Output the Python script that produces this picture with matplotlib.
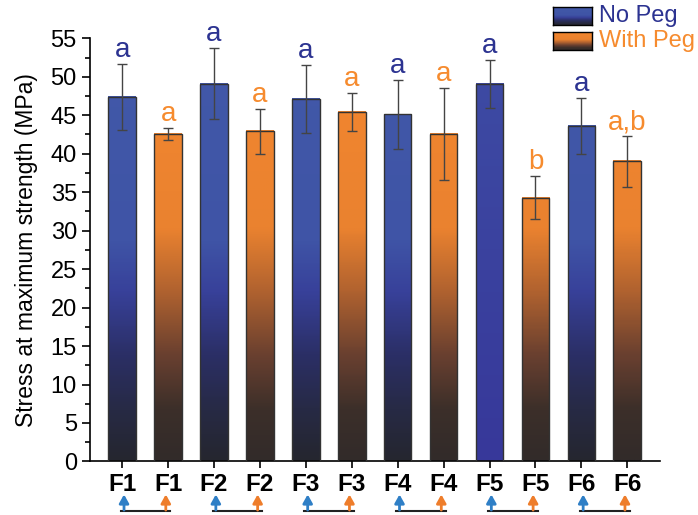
import numpy as np
import matplotlib
matplotlib.use("Agg")
import matplotlib.pyplot as plt
from matplotlib.colors import LinearSegmentedColormap, Normalize
from matplotlib.patches import Rectangle
import matplotlib.transforms as mtransforms

plt.rcParams['font.family'] = ['Liberation Sans', 'DejaVu Sans']

# data
formulas = ["F1", "F2", "F3", "F4", "F5", "F6"]
no_peg = [47.4, 49.1, 47.1, 45.1, 49.1, 43.6]
no_peg_err = [4.3, 4.6, 4.4, 4.5, 3.1, 3.7]
with_peg = [42.6, 42.9, 45.4, 42.6, 34.3, 39.0]
with_peg_err = [0.8, 2.9, 2.5, 6.0, 2.8, 3.3]
letters_no_peg = ["a", "a", "a", "a", "a", "a"]
letters_with_peg = ["a", "a", "a", "a", "b", "a,b"]
solid_bars = ["F5"]  # the no-peg F5 bar has no dark fade

NAVY = "#2c3391"
ORANGE = "#f68b2e"

blue_cmap = LinearSegmentedColormap.from_list("blue_fade", [
    (0.0, "#25262f"), (0.12, "#272a45"), (0.25, "#2b2f66"),
    (0.40, "#38419a"), (0.52, "#3f54a6"), (1.0, "#4259a9")])
orange_cmap = LinearSegmentedColormap.from_list("orange_fade", [
    (0.0, "#322b2a"), (0.12, "#3c2f29"), (0.25, "#6a4030"),
    (0.40, "#b0622f"), (0.55, "#ea822f"), (1.0, "#f4872f")])
solid_cmap = LinearSegmentedColormap.from_list("solid_blue", ["#37389a", "#3e4ca4"])

fig = plt.figure(figsize=(6.98, 5.15), dpi=100)
ax = fig.add_axes([0.129, 0.104, 0.817, 0.8216])

ymax = 55
norm = Normalize(0, ymax)
width = 0.6

labels, heights, errs, cmaps, letters, lcolors = [], [], [], [], [], []
for i, f in enumerate(formulas):
    labels += [f, f]
    heights += [no_peg[i], with_peg[i]]
    errs += [no_peg_err[i], with_peg_err[i]]
    cmaps += [solid_cmap if f in solid_bars else blue_cmap, orange_cmap]
    letters += [letters_no_peg[i], letters_with_peg[i]]
    lcolors += [NAVY, ORANGE]

x = np.arange(len(labels))

for xi, h, cm in zip(x, heights, cmaps):
    grad = np.linspace(0, h, 200).reshape(-1, 1)
    ax.imshow(grad, cmap=cm, norm=norm, origin="lower", aspect="auto",
              extent=[xi - width / 2, xi + width / 2, 0, h], zorder=2)
    ax.add_patch(Rectangle((xi - width / 2, 0), width, h, fill=False,
                           edgecolor="#333333", lw=1.0, zorder=3))

ax.errorbar(x, heights, yerr=errs, fmt="none", ecolor="#444444",
            elinewidth=1.0, capsize=3.5, capthick=1.0, zorder=4)

for xi, h, e, t, c in zip(x, heights, errs, letters, lcolors):
    ax.annotate(t, (xi, h + e), xytext=(0, 5), textcoords="offset points",
                ha="center", va="baseline", fontsize=20, color=c)

ax.set_xlim(-0.70, 11.72)
ax.set_ylim(0, ymax)
ax.set_yticks(np.arange(0, 56, 5))
ax.set_yticks(np.arange(0, 55, 2.5), minor=True)
ax.set_xticks(x)
ax.set_xticklabels(labels, fontsize=17.5, fontweight="bold")
ax.tick_params(axis="y", which="major", labelsize=17, length=6, width=1.2, direction="out")
ax.tick_params(axis="y", which="minor", length=3.5, width=1.2)
ax.tick_params(axis="x", length=5, width=1.2, pad=3)
ax.spines["top"].set_visible(False)
ax.spines["right"].set_visible(False)
for s in ["left", "bottom"]:
    ax.spines[s].set_linewidth(1.2)
ax.set_ylabel("Stress at maximum strength (MPa)", fontsize=16.5, labelpad=9)

# pair markers under the tick labels
trans = mtransforms.blended_transform_factory(ax.transData, ax.transAxes)
for i in range(len(formulas)):
    xb, xo = x[2 * i], x[2 * i + 1]
    ax.plot([xb - 0.03, xo + 0.05], [-0.117, -0.117], color="#222222", lw=1.5,
            transform=trans, clip_on=False)
    for xa, col in [(xb + 0.04, "#2f7fc6"), (xo - 0.05, "#ee7d2b")]:
        ax.annotate("", xy=(xa, -0.078), xytext=(xa, -0.115), xycoords=trans, textcoords=trans,
                    arrowprops=dict(arrowstyle="-|>,head_width=0.28,head_length=0.5",
                                    color=col, lw=2.0, shrinkA=0, shrinkB=0),
                    annotation_clip=False)

# legend with gradient swatches
for bottom, cm, text, col in [(0.951, blue_cmap, "No Peg", NAVY),
                               (0.903, orange_cmap, "With Peg", ORANGE)]:
    sw = fig.add_axes([0.792, bottom, 0.056, 0.035])
    sw.imshow(np.linspace(0, ymax, 100).reshape(-1, 1), cmap=cm, norm=norm,
              origin="lower", aspect="auto")
    sw.set_xticks([])
    sw.set_yticks([])
    for s in sw.spines.values():
        s.set_linewidth(1.0)
    fig.text(0.858, bottom + 0.0175, text, fontsize=17, color=col, va="center", ha="left")

fig.savefig("out.png", dpi=100)
